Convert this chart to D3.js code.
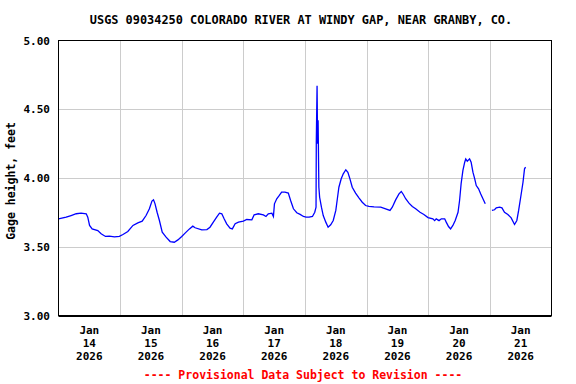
<!DOCTYPE html>
<html>
<head>
<meta charset="utf-8">
<script src="https://cdn.jsdelivr.net/npm/d3@7/dist/d3.min.js"></script>
<style>
  html, body { margin: 0; padding: 0; background: #fff; }
  svg { display: block; }
  text { font-family: "DejaVu Sans Mono", "Liberation Mono", monospace; font-weight: bold; }
</style>
</head>
<body>
<svg id="chart" width="576" height="384"></svg>
<script>
const title = "USGS 09034250 COLORADO RIVER AT WINDY GAP, NEAR GRANBY, CO.";
const yLabel = "Gage height, feet";
const footer = "---- Provisional Data Subject to Revision ----";
const yTicks = [3.0, 3.5, 4.0, 4.5, 5.0];
const dayLabels = ["14", "15", "16", "17", "18", "19", "20", "21"];
const monthLabel = "Jan";
const yearLabel = "2026";

// hours since 2026-01-14 00:00 (local)
const hours = [0,3.0,4.9,6.9,8.8,10.8,11.4,12.1,13.1,15.3,16.6,18.3,19.8,21.8,23.7,25.1,27.0,29.0,30.9,32.6,34.1,35.4,36.4,37.0,37.6,38.4,39.3,40.4,41.9,43.5,45.1,46.5,48.0,49.3,51.0,52.3,53.2,55.8,57.8,59.0,60.3,61.6,62.7,63.6,64.5,65.5,66.8,67.7,68.8,70.1,72.0,73.3,75.3,76.2,77.8,79.8,80.8,81.7,83.1,83.7,84.1,85.0,86.0,86.9,88.2,89.5,90.4,91.5,92.8,94.1,95.4,96.4,97.6,98.9,99.8,100.3,100.4,100.7,100.9,101.1,101.4,101.7,102.4,103.1,104.1,105.0,106.0,107.0,108.0,108.6,109.2,110.1,110.9,111.9,112.7,113.5,114.4,115.7,117.0,118.3,119.6,120.9,122.9,125.5,127.4,129.1,130.0,131.3,132.6,133.5,134.3,135.2,136.5,137.8,139.1,140.8,142.3,143.9,145.8,146.5,147.1,148.2,149.1,150.4,151.0,151.9,152.7,153.6,154.5,155.6,156.2,156.8,157.5,158.2,158.6,159.2,160.1,160.7,161.4,162.1,162.7,163.6,164.4,165.3,166.2,167.5,168.8,169.8,170.5,171.8,172.7,173.7,175.0,176.3,177.6,178.5,179.2,180.0,180.9,181.5,181.9];
const gage = [3.703,3.715,3.727,3.74,3.744,3.74,3.715,3.655,3.63,3.618,3.594,3.575,3.577,3.572,3.575,3.589,3.611,3.655,3.674,3.686,3.727,3.776,3.832,3.841,3.812,3.751,3.691,3.606,3.57,3.538,3.533,3.55,3.575,3.599,3.63,3.65,3.638,3.623,3.625,3.642,3.679,3.715,3.744,3.74,3.703,3.667,3.635,3.63,3.667,3.679,3.686,3.698,3.696,3.732,3.74,3.732,3.72,3.74,3.744,3.72,3.812,3.849,3.873,3.897,3.897,3.89,3.836,3.776,3.747,3.735,3.72,3.715,3.715,3.72,3.751,3.788,4.26,4.67,4.25,4.42,3.933,3.86,3.788,3.727,3.679,3.642,3.66,3.691,3.764,3.849,3.933,3.994,4.03,4.06,4.042,3.994,3.933,3.89,3.856,3.824,3.8,3.793,3.79,3.788,3.776,3.764,3.788,3.841,3.885,3.902,3.88,3.849,3.817,3.793,3.776,3.751,3.735,3.712,3.703,3.69,3.703,3.69,3.703,3.703,3.679,3.647,3.63,3.655,3.691,3.751,3.836,3.958,4.055,4.115,4.139,4.122,4.139,4.115,4.042,3.994,3.945,3.921,3.885,3.849,3.812,null,3.764,3.769,3.783,3.788,3.783,3.751,3.735,3.71,3.662,3.691,3.764,3.86,3.969,4.067,4.079];

const start = new Date(2026, 0, 14, 0, 0);
const end = new Date(2026, 0, 22, 0, 0);
const data = hours.map((h, i) => ({ t: new Date(start.getTime() + h * 3600e3), v: gage[i] }));

const svg = d3.select("#chart");
const L = 58.5, R = 551.5, T = 40.5, B = 315.5;

const x = d3.scaleTime().domain([start, end]).range([L, R]);
const y = d3.scaleLinear().domain([3, 5]).range([B, T]);

// grid
const days = d3.timeDay.range(d3.timeDay.offset(start, 1), end);
svg.append("g").selectAll("line").data(days).join("line")
  .attr("x1", d => Math.round(x(d)) + 0.5).attr("x2", d => Math.round(x(d)) + 0.5)
  .attr("y1", T).attr("y2", B)
  .attr("stroke", "#cccccc").attr("stroke-width", 1);
svg.append("g").selectAll("line").data(yTicks.filter(v => v > 3 && v < 5)).join("line")
  .attr("x1", L).attr("x2", R)
  .attr("y1", d => Math.round(y(d)) + 0.5).attr("y2", d => Math.round(y(d)) + 0.5)
  .attr("stroke", "#cccccc").attr("stroke-width", 1);

// line
const line = d3.line().defined(d => d.v !== null).x(d => x(d.t)).y(d => y(d.v));
svg.append("path").datum(data)
  .attr("d", line).attr("fill", "none").attr("stroke", "#0000ff").attr("stroke-width", 1.3);

// frame
svg.append("rect").attr("x", L).attr("y", T).attr("width", R - L).attr("height", B - T)
  .attr("fill", "none").attr("stroke", "#000").attr("stroke-width", 1);
svg.append("line").attr("x1", L).attr("x2", R).attr("y1", B + 1).attr("y2", B + 1).attr("stroke", "#000");

// y tick labels
svg.append("g").selectAll("text").data(yTicks).join("text")
  .attr("x", 50).attr("y", d => y(d) + 4)
  .attr("text-anchor", "end").attr("font-size", 11)
  .text(d => d3.format(".2f")(d));

// x labels
const noons = days.map(d => d3.timeHour.offset(d, -12)).concat([d3.timeHour.offset(end, -12)]);
const gx = svg.append("g").selectAll("g").data(noons).join("g")
  .attr("transform", d => `translate(${x(d)},0)`);
gx.append("text").attr("y", 334).attr("text-anchor", "middle").attr("font-size", 11).text(monthLabel);
gx.append("text").attr("y", 347).attr("text-anchor", "middle").attr("font-size", 11).text((d, i) => dayLabels[i]);
gx.append("text").attr("y", 360).attr("text-anchor", "middle").attr("font-size", 11).text(yearLabel);

// title
svg.append("text").attr("x", 301).attr("y", 24).attr("text-anchor", "middle")
  .attr("font-size", 11.9).text(title);

// y label
svg.append("text").attr("transform", "translate(15,181) rotate(-90)")
  .attr("text-anchor", "middle").attr("font-size", 11.5).text(yLabel);

// footer
svg.append("text").attr("x", 303).attr("y", 379).attr("text-anchor", "middle")
  .attr("font-size", 11.5).attr("fill", "#ff0000").text(footer);
</script>
</body>
</html>
